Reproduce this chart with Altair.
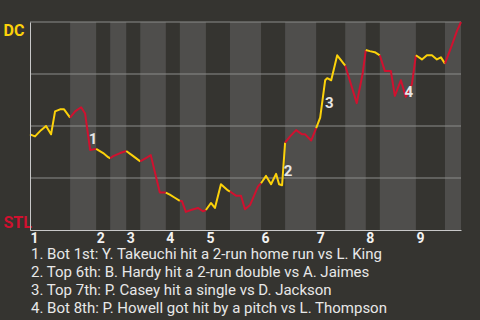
import altair as alt
import pandas as pd

YELLOW = "#fcd20a"
RED = "#d0112f"
BG = "#353430"
BAND = "#4f4e4c"

# half-inning boundaries, in plate-appearance units (top 1st starts at 0)
half_bounds = [0, 8.0, 13.2, 16.0, 19.2, 22.0, 27.1, 29.9, 35.1, 39.9,
               46.1, 50.9, 57.1, 62.9, 67.0, 69.8, 77.0, 82.8, 86.0]

play = [0, 1.0, 2.2, 3.2, 4.2, 5.0, 6.0, 6.8, 8.0,
        9.0, 10.2, 11.0, 12.0, 13.2,
        14.6, 15.6, 16.0,
        16.6, 18.0, 19.2,
        20.6, 22.0,
        23.1, 24.1, 25.9, 27.1,
        27.9, 28.9, 29.9,
        30.3, 31.1, 32.1, 33.5, 34.5, 35.1,
        36.1, 36.9, 38.1, 39.5, 39.9,
        41.1, 42.1, 42.9, 43.9, 45.5, 46.1,
        47.1, 48.1, 49.1, 49.7, 50.3, 50.9,
        51.9, 53.1, 54.3, 54.9, 56.1, 57.1,
        57.9, 58.9, 59.3, 60.1, 61.3, 62.9,
        63.8, 65.2, 66.4, 67.0,
        67.8, 68.8, 69.8,
        70.8, 72.0, 72.8, 74.0, 75.0, 76.2, 77.0,
        78.2, 79.2, 80.2, 81.2, 82.0, 82.8,
        84.2, 85.2, 86.0]

win_prob = [0.46, 0.45, 0.48, 0.50, 0.46, 0.57, 0.58, 0.58, 0.54,
            0.57, 0.59, 0.56, 0.385, 0.39,
            0.37, 0.35, 0.345,
            0.355, 0.37, 0.38,
            0.355, 0.33,
            0.345, 0.36, 0.18, 0.18,
            0.17, 0.155, 0.14,
            0.14, 0.087, 0.096, 0.106, 0.09, 0.096,
            0.13, 0.106, 0.22, 0.19, 0.185,
            0.165, 0.165, 0.10, 0.12, 0.21, 0.225,
            0.26, 0.22, 0.27, 0.22, 0.215, 0.42,
            0.45, 0.48, 0.46, 0.46, 0.43, 0.49,
            0.54, 0.72, 0.73, 0.72, 0.84, 0.79,
            0.72, 0.61, 0.755, 0.865,
            0.86, 0.855, 0.84,
            0.765, 0.765, 0.645, 0.72, 0.64, 0.70, 0.84,
            0.82, 0.84, 0.84, 0.82, 0.83, 0.80,
            0.89, 0.957, 1.0]

grid_levels = [0.25, 0.5, 0.75, 1.0]

event_no = ["1", "2", "3", "4"]
event_play = [12.6, 51.5, 59.7, 75.6]
event_wp = [0.4375, 0.284, 0.61, 0.663]

notes = [
    "1. Bot 1st: Y. Takeuchi hit a 2-run home run vs L. King",
    "2. Top 6th: B. Hardy hit a 2-run double vs A. Jaimes",
    "3. Top 7th: P. Casey hit a single vs D. Jackson",
    "4. Bot 8th: P. Howell got hit by a pitch vs L. Thompson",
]

# build tables
rows = []
for h in range(len(half_bounds) - 1):
    lo, hi = half_bounds[h], half_bounds[h + 1]
    team = "DC" if h % 2 == 0 else "STL"
    for p, w in zip(play, win_prob):
        if lo - 1e-9 <= p <= hi + 1e-9:
            rows.append({"play": p, "wp": w, "half": h, "team": team})
line_df = pd.DataFrame(rows)

bands_df = pd.DataFrame({"start": half_bounds[1::2], "end": half_bounds[2::2]})
grid_df = pd.DataFrame({"level": grid_levels})
events_df = pd.DataFrame({"label": event_no, "play": event_play, "wp": event_wp})

inning_starts = half_bounds[0::2][:9]
starts_js = "[" + ",".join(str(v) for v in inning_starts) + "]"

xscale = alt.Scale(domain=[0, 86], nice=False, zero=False)
yscale = alt.Scale(domain=[0, 1], nice=False, zero=False)

x_axis = alt.Axis(
    values=inning_starts,
    labelExpr=f"indexof({starts_js}, datum.value) + 1",
    labelAlign="left",
    labelFont="Roboto",
    labelFontSize=14,
    labelFontWeight="bold",
    labelColor="#f2f2f2",
    labelPadding=1,
    labelFlush=False,
    labelOverlap=False,
    ticks=False,
    grid=False,
    domainColor="#c8c8c8",
    title=None,
    zindex=1,
)
y_axis = alt.Axis(
    values=[0, 1],
    labelExpr="datum.value == 1 ? 'DC' : 'STL'",
    labelAlign="left",
    labelPadding=27,
    labelFont="Roboto",
    labelFontSize=16,
    labelFontWeight="bold",
    labelColor={"condition": {"test": "datum.value == 1", "value": YELLOW}, "value": RED},
    labelBaseline={"condition": {"test": "datum.value == 1", "value": "top"}, "value": "bottom"},
    ticks=False,
    grid=False,
    domainColor="#c8c8c8",
    title=None,
    zindex=1,
)

bands = alt.Chart(bands_df).mark_rect(color=BAND).encode(
    x=alt.X("start:Q", scale=xscale, axis=x_axis),
    x2="end:Q",
    y=alt.datum(0, scale=yscale, axis=y_axis),
    y2=alt.datum(1),
)

grid = alt.Chart(grid_df).mark_rule(color="#8c8c8a", strokeWidth=1).encode(
    y=alt.Y("level:Q", scale=yscale, axis=y_axis),
)

line = alt.Chart(line_df).mark_line(strokeWidth=2, strokeJoin="round").encode(
    x=alt.X("play:Q", scale=xscale, axis=x_axis),
    y=alt.Y("wp:Q", scale=yscale, axis=y_axis),
    color=alt.Color("team:N", scale=alt.Scale(domain=["DC", "STL"], range=[YELLOW, RED]), legend=None),
    detail="half:N",
    order="play:Q",
)

labels = alt.Chart(events_df).mark_text(
    font="Roboto", fontSize=15, fontWeight="bold", color="#e6e6e6",
    align="center", baseline="middle",
).encode(
    x=alt.X("play:Q", scale=xscale, axis=x_axis),
    y=alt.Y("wp:Q", scale=yscale, axis=y_axis),
    text="label:N",
)

chart = alt.layer(bands, grid, line, labels).properties(
    width=431,
    height=208,
    autosize=alt.AutoSizeParams(type="none"),
    padding={"left": 30, "top": 22, "right": 19, "bottom": 90},
    background=BG,
    title=alt.TitleParams(
        text=notes,
        orient="bottom",
        anchor="start",
        frame="group",
        font="Roboto",
        fontSize=15,
        fontWeight="normal",
        color="#e8e8e8",
        lineHeight=18,
        offset=2,
        dx=1,
    ),
).configure_view(stroke=None)

chart.save("out.html", embed_options={"renderer": "svg", "actions": False})
